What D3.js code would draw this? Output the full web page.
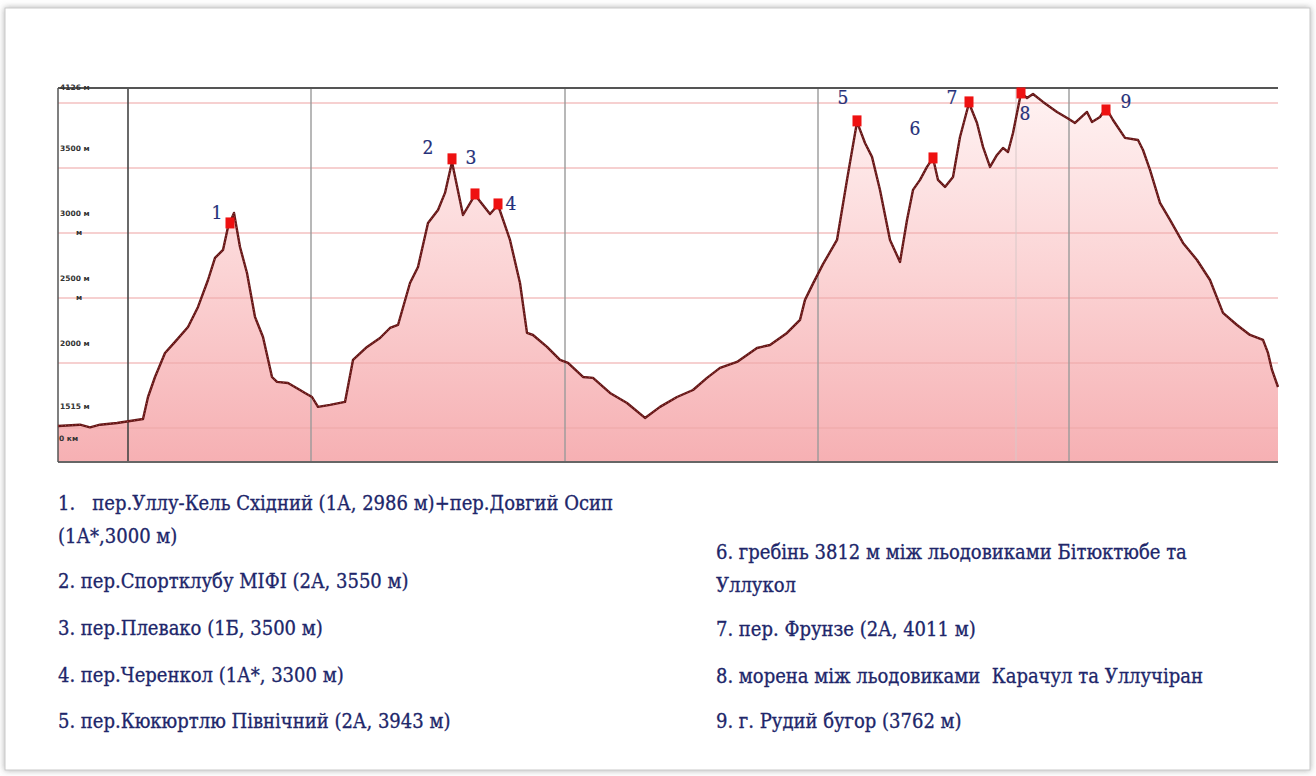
<!DOCTYPE html>
<html>
<head>
<meta charset="utf-8">
<script src="https://cdn.jsdelivr.net/npm/d3@7"></script>
<style>
  body { margin: 0; background: #fff; }
  svg { display: block; }
  .ylab { font-family: "DejaVu Sans", sans-serif; font-size: 7.5px; font-weight: bold; fill: #333; }
  .num { font-family: "DejaVu Serif Condensed", "DejaVu Serif", serif; font-size: 19px; fill: #263079; stroke: #263079; stroke-width: 0.2; }
  .legend { font-family: "DejaVu Serif Condensed", "DejaVu Serif", serif; font-size: 20px; fill: #20266a; stroke: #20266a; stroke-width: 0.3; white-space: pre; }
</style>
</head>
<body>
<svg id="chart" width="1316" height="776"></svg>
<script>
/////////////
// PROFILE //
/////////////

// distance along the route (km) and elevation (m)
let dist = [
  0, 2.2, 3.2, 4.2, 5.9, 8.5, 9.0, 9.7, 10.7, 11.7, 13.0, 14.0, 15.0, 15.7, 16.5, 17.0, 17.6,
  18.2, 18.9, 19.7, 20.5, 21.4, 21.9, 23.0, 24.2, 24.7, 25.4, 26.0, 27.2, 28.7, 29.5, 30.9,
  32.2, 33.2, 34.0, 35.2, 36.0, 37.0, 38.0, 38.7, 39.4, 40.5, 41.7, 43.2, 44.0, 45.2, 46.2,
  46.9, 47.5, 48.9, 50.2, 51.0, 52.5, 53.5, 55.2, 56.9, 58.7, 60.2, 61.9, 63.5, 64.9, 66.2,
  67.9, 69.9, 71.2, 72.9, 74.2, 74.7, 75.5, 76.5, 77.9, 78.9, 79.9, 80.7, 81.4, 82.2, 83.2,
  84.2, 84.9, 85.5, 86.2, 86.9, 87.5, 88.0, 88.7, 89.5, 90.2, 91.1, 91.9, 92.5, 93.2, 93.9,
  94.5, 95.0, 95.5, 96.3, 96.9, 97.5, 98.5, 99.9, 101.0, 101.7, 102.9, 103.4, 104.2, 104.8,
  105.5, 106.7, 108.0, 108.5, 109.2, 110.2, 111.2, 112.5, 113.9, 115.2, 116.5, 117.9, 119.2,
  120.5, 121.0, 121.4, 122.0
];
let elev = [
  1515, 1525, 1505, 1525, 1538, 1569, 1738, 1892, 2077, 2162, 2277, 2431, 2638, 2808, 2869, 3046, 3154,
  2892, 2692, 2354, 2200, 1892, 1854, 1846, 1792, 1769, 1738, 1662, 1677, 1700, 2023, 2123,
  2192, 2269, 2292, 2615, 2738, 3077, 3177, 3308, 3546, 3138, 3292, 3146, 3215, 2946, 2615,
  2231, 2215, 2123, 2023, 2000, 1892, 1885, 1769, 1692, 1577, 1662, 1738, 1792, 1885, 1962,
  2008, 2115, 2138, 2231, 2331, 2485, 2610, 2760, 2946, 3408, 3854, 3692, 3585, 3331, 2946,
  2777, 3100, 3331, 3408, 3508, 3577, 3408, 3354, 3431, 3738, 4000, 3846, 3662, 3508, 3600,
  3654, 3623, 3769, 4077, 4038, 4069, 4008, 3931, 3880, 3846, 3931, 3854, 3892, 3962,
  3869, 3731, 3715, 3638, 3485, 3231, 3100, 2923, 2792, 2638, 2385, 2292, 2215,
  2177, 2077, 1946, 1815
];

// passes marked on the profile
let passNums = ["1", "2", "3", "4", "5", "6", "7", "8", "9"];
let passDist = [17.2, 39.4, 41.7, 44.0, 79.9, 87.5, 91.1, 96.3, 104.8];
let passElev = [3077, 3570, 3300, 3223, 3862, 3577, 4008, 4077, 3946];

// day separators (km)
let dayMarks = [7.0, 25.3, 50.7, 76.0, 101.1];
let faintMarks = [95.8];

// axis
let gridVals = [4000, 3500, 3000, 2500, 2000, 1500];
let yTickVals = [4126, 3500, 3000, 2500, 2000, 1515];
let yTickText = ["4126 м", "3500 м", "3000 м", "2500 м", "2000 м", "1515 м"];

// legend
let legendLeft = [
  ["1.   пер.Уллу-Кель Східний (1А, 2986 м)+пер.Довгий Осип", "(1А*,3000 м)"],
  ["2. пер.Спортклубу МІФІ (2А, 3550 м)"],
  ["3. пер.Плевако (1Б, 3500 м)"],
  ["4. пер.Черенкол (1А*, 3300 м)"],
  ["5. пер.Кюкюртлю Північний (2А, 3943 м)"]
];
let legendRight = [
  ["6. гребінь 3812 м між льодовиками Бітюктюбе та", "Уллукол"],
  ["7. пер. Фрунзе (2А, 4011 м)"],
  ["8. морена між льодовиками  Карачул та Уллучіран"],
  ["9. г. Рудий бугор (3762 м)"]
];

// graphics

let width = 1316, height = 776;
let plot = { left: 58, right: 1278, top: 88, bottom: 462 };

let svg = d3.select("#chart");
let defs = svg.append("defs");

let shadow = defs.append("filter")
  .attr("id", "shadow")
  .attr("x", "-5%").attr("y", "-5%")
  .attr("width", "110%").attr("height", "110%")
  ;
shadow.append("feDropShadow")
  .attr("dx", 0).attr("dy", 0)
  .attr("stdDeviation", 3)
  .attr("flood-color", "#777")
  .attr("flood-opacity", 0.6)
  ;

let grad = defs.append("linearGradient")
  .attr("id", "fillGrad")
  .attr("gradientUnits", "userSpaceOnUse")
  .attr("x1", 0).attr("x2", 0)
  .attr("y1", plot.top).attr("y2", plot.bottom)
  ;
grad.append("stop").attr("offset", 0).attr("stop-color", "#fff3f3");
grad.append("stop").attr("offset", 0.5).attr("stop-color", "#fbd3d4");
grad.append("stop").attr("offset", 1).attr("stop-color", "#f6b0b3");

// card frame
svg.append("rect")
  .attr("x", 5).attr("y", 8)
  .attr("width", width - 11).attr("height", height - 14)
  .attr("fill", "#fff")
  .attr("stroke", "#c9c9c9")
  .attr("filter", "url(#shadow)")
  ;

let x = d3.scaleLinear().domain([0, 122]).range([plot.left, plot.right]);
let y = d3.scaleLinear().domain([1238, 4115]).range([plot.bottom, plot.top]);

let profile = dist.map((d, i) => ({ d: d, e: elev[i] }));

// area
let area = d3.area()
  .x(p => x(p.d))
  .y0(plot.bottom)
  .y1(p => y(p.e))
  ;
svg.append("path")
  .datum(profile)
  .attr("d", area)
  .attr("fill", "url(#fillGrad)")
  ;

// pink gridlines
svg.append("g")
  .selectAll("line")
  .data(gridVals)
  .enter()
  .append("line")
  .attr("x1", plot.left)
  .attr("x2", plot.right)
  .attr("y1", d => y(d))
  .attr("y2", d => y(d))
  .attr("stroke", "#eeaaaa")
  .attr("stroke-opacity", 0.55)
  .attr("stroke-width", 2)
  ;

// vertical separators
svg.append("g")
  .selectAll("line")
  .data(faintMarks)
  .enter()
  .append("line")
  .attr("x1", d => x(d)).attr("x2", d => x(d))
  .attr("y1", plot.top).attr("y2", plot.bottom)
  .attr("stroke", "#d8c8c8")
  .attr("stroke-width", 1)
  ;
svg.append("g")
  .selectAll("line")
  .data(dayMarks)
  .enter()
  .append("line")
  .attr("x1", d => x(d)).attr("x2", d => x(d))
  .attr("y1", plot.top).attr("y2", plot.bottom)
  .attr("stroke", (d, i) => i == 0 ? "#444" : "#9a9a9a")
  .attr("stroke-width", (d, i) => i == 0 ? 1.6 : 1.4)
  ;

// frame lines
svg.append("line")
  .attr("x1", plot.left).attr("x2", plot.right)
  .attr("y1", plot.top).attr("y2", plot.top)
  .attr("stroke", "#555").attr("stroke-width", 2)
  ;
svg.append("line")
  .attr("x1", plot.left).attr("x2", plot.right)
  .attr("y1", plot.bottom).attr("y2", plot.bottom)
  .attr("stroke", "#666").attr("stroke-width", 2)
  ;
svg.append("line")
  .attr("x1", plot.left).attr("x2", plot.left)
  .attr("y1", plot.top).attr("y2", plot.bottom)
  .attr("stroke", "#555").attr("stroke-width", 1.5)
  ;

// profile line
let line = d3.line()
  .x(p => x(p.d))
  .y(p => y(p.e))
  ;
svg.append("path")
  .datum(profile)
  .attr("d", line)
  .attr("fill", "none")
  .attr("stroke", "#641616")
  .attr("stroke-width", 2.4)
  .attr("stroke-linejoin", "round")
  ;
svg.append("path")
  .datum(profile)
  .attr("d", line)
  .attr("fill", "none")
  .attr("stroke", "#b55a5a")
  .attr("stroke-width", 0.8)
  .attr("stroke-dasharray", "1,2.5")
  ;

// y labels
let ylabs = svg.append("g");
yTickVals.forEach((v, i) => {
  let yy = i == 0 ? y(v) + 3 : y(v) - 17;
  ylabs.append("text")
    .classed("ylab", true)
    .attr("x", plot.left + 2)
    .attr("y", yy)
    .text(yTickText[i])
    ;
  // wrapped unit under 3000 and 2500
  if (v == 3000 || v == 2500) {
    ylabs.append("text")
      .classed("ylab", true)
      .attr("x", plot.left + 18)
      .attr("y", y(v) + 2)
      .text("м")
      ;
  }
});
ylabs.append("text")
  .classed("ylab", true)
  .attr("x", x(0) + 1)
  .attr("y", plot.bottom - 21)
  .text("0 км")
  ;

// pass markers
let labelOff = [[-13, -11], [-24, -12], [-4, -37], [13, -1], [-14, -24], [-18, -30], [-17, -5], [4, 20], [20, -9]];
let passes = svg.append("g")
  .selectAll("g")
  .data(passNums)
  .enter()
  .append("g")
  .attr("transform", (d, i) => `translate(${x(passDist[i])}, ${y(passElev[i])})`)
  ;
passes.append("rect")
  .attr("x", -4.5).attr("y", -5.5)
  .attr("width", 9).attr("height", 11)
  .attr("fill", "#ee1111")
  ;
passes.append("text")
  .classed("num", true)
  .attr("text-anchor", "middle")
  .attr("x", (d, i) => labelOff[i][0])
  .attr("y", (d, i) => labelOff[i][1] + 7)
  .text(d => d)
  ;

// legend
function drawLegend(items, x0, starts) {
  let g = svg.append("g");
  items.forEach((lines, i) => {
    lines.forEach((t, j) => {
      g.append("text")
        .classed("legend", true)
        .attr("x", x0)
        .attr("y", starts[i] + j * 33)
        .text(t)
        ;
    });
  });
}
drawLegend(legendLeft, 58, [510, 588, 635, 682, 728]);
drawLegend(legendRight, 716, [559, 636, 683, 728]);
</script>
</body>
</html>
